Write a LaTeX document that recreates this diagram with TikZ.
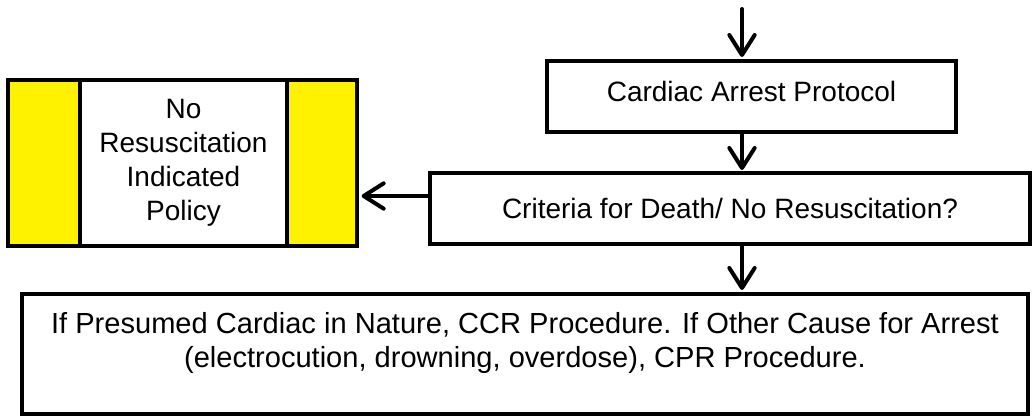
\documentclass[tikz,border=0pt]{standalone}
\usepackage{fontspec}
\setmainfont{Liberation Sans}
\usetikzlibrary{arrows.meta}
\begin{document}
\begin{tikzpicture}[x=0.75pt,y=-0.75pt,
  box/.style={draw=black, line width=3pt, fill=white, inner sep=0pt},
  txt/.style={font=\fontsize{21}{25.5}\selectfont, align=center, inner sep=0pt},
  arr/.style={line width=3pt, -{Straight Barb[length=15pt,width=19pt,line width=3pt,round]}, line cap=round}]
\useasboundingbox[fill=white] (0,0) rectangle (1033,416);
% yellow policy box
\node[box, fill=yellow, minimum width=349*0.75pt, minimum height=166*0.75pt] (ny) at (182.5,163) {};
\node[box, minimum width=207*0.75pt, minimum height=166*0.75pt, txt] (nyi) at (183.5,163) {No\\Resuscitation\\Indicated\\Policy};
% cardiac arrest box
\node[box, minimum width=409*0.75pt, minimum height=71*0.75pt] (car) at (751.5,97) {};
\node[txt] (cart) at (751.5,91.5) {Cardiac Arrest Protocol};
% criteria box
\node[box, minimum width=600*0.75pt, minimum height=71*0.75pt, txt] (crit) at (730,208.5) {Criteria for Death/ No Resuscitation?};
% bottom box
\node[box, minimum width=1006*0.75pt, minimum height=120*0.75pt] (bot) at (525,354) {};
\node[txt, font=\fontsize{21.8}{25.5}\selectfont] (bott) at (525,343) {If Presumed Cardiac in Nature, CCR Procedure. If Other Cause for Arrest\\(electrocution, drowning, overdose), CPR Procedure.};
% connectors
\coordinate (start) at (742,9);
\coordinate (t1) at (742,57);
\draw[arr] (start) -- (t1);
\draw[arr] (742,133) -- (742,170);
\draw[arr] (crit.west |- 0,196) -- ([xshift=2pt]ny.east |- 0,196);
\draw[arr] (742,245) -- (742,290);
\end{tikzpicture}
\end{document}
